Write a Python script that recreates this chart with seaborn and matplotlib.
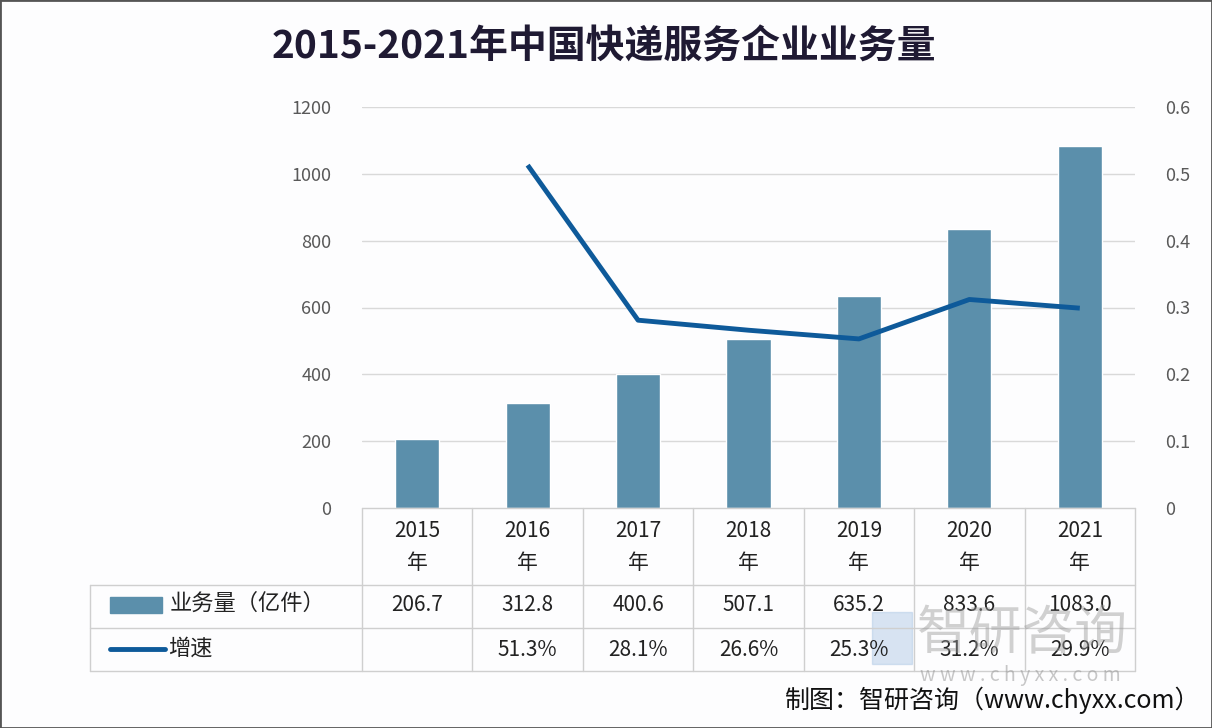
import numpy as np
import matplotlib
matplotlib.use("Agg")
import matplotlib.pyplot as plt
import seaborn as sns
from matplotlib.patches import Rectangle
from matplotlib.lines import Line2D

years = ["2015", "2016", "2017", "2018", "2019", "2020", "2021"]
volume = [206.7, 312.8, 400.6, 507.1, 635.2, 833.6, 1083.0]
growth = [None, 0.513, 0.281, 0.266, 0.253, 0.312, 0.299]
volume_labels = ["206.7", "312.8", "400.6", "507.1", "635.2", "833.6", "1083.0"]
growth_labels = ["", "51.3%", "28.1%", "26.6%", "25.3%", "31.2%", "29.9%"]
left_ticks = [0, 200, 400, 600, 800, 1000, 1200]
right_ticks = [0, 0.1, 0.2, 0.3, 0.4, 0.5, 0.6]
right_labels = ["0", "0.1", "0.2", "0.3", "0.4", "0.5", "0.6"]

sns.set_theme(style="white")
FAM = ["Noto Sans CJK SC", "DejaVu Sans"]
plt.rcParams["font.family"] = FAM

BAR = "#5B8FAB"
LINE = "#0E5A9A"
GRID = "#D9D9D9"
TXT = "#222222"
TICK = "#595959"

W, H = 1212, 728
fig = plt.figure(figsize=(W / 100, H / 100), dpi=100)
fig.patch.set_facecolor("#FDFDFE")

L, R, T, B = 362, 1135, 107, 508
ax = fig.add_axes([L / W, 1 - B / H, (R - L) / W, (B - T) / H])
ax.set_facecolor("none")

df_x = list(range(len(years)))
sns.barplot(x=df_x, y=volume, ax=ax, color=BAR, width=0.4, saturation=1, native_scale=False)
ax.set_xlim(-0.5, len(years) - 0.5)
ax.set_ylim(0, 1200)
ax.set_yticks(left_ticks)
ax.set_yticklabels([str(t) for t in left_ticks], color=TICK, fontsize=13)
ax.tick_params(axis="y", length=0, pad=22)
ax.set_xticks([])
ax.set_xlabel("")
ax.set_ylabel("")
for t in left_ticks[1:]:
    ax.axhline(t, color=GRID, lw=1, zorder=0)
for s in ax.spines.values():
    s.set_visible(False)

ax2 = ax.twinx()
gx = [i for i, g in enumerate(growth) if g is not None]
gy = [g for g in growth if g is not None]
sns.lineplot(x=gx, y=gy, ax=ax2, color=LINE, lw=3.5, solid_capstyle="butt")
ax2.set_ylim(0, 0.6)
ax2.set_yticks(right_ticks)
ax2.set_yticklabels(right_labels, color=TICK, fontsize=13)
ax2.tick_params(axis="y", length=0, pad=22)
for s in ax2.spines.values():
    s.set_visible(False)
ax.set_xlim(-0.5, len(years) - 0.5)
ax2.set_xlim(-0.5, len(years) - 0.5)

# --- data table (in figure pixel coords) ---
def fx(px):
    return px / W

def fy(py):
    return 1 - py / H

TL = "#CFCFCF"
slot = (R - L) / len(years)
rows = [B, 585, 628, 671]
fig.add_artist(Line2D([fx(L), fx(R)], [fy(B), fy(B)], color=TL, lw=1))
for py in rows[1:]:
    fig.add_artist(Line2D([fx(90), fx(R)], [fy(py), fy(py)], color=TL, lw=1))
for i in range(len(years) + 1):
    px = L + i * slot
    fig.add_artist(Line2D([fx(px), fx(px)], [fy(B), fy(rows[-1])], color=TL, lw=1))
fig.add_artist(Line2D([fx(90), fx(90)], [fy(rows[1]), fy(rows[-1])], color=TL, lw=1))

for i, y in enumerate(years):
    cx = fx(L + (i + 0.5) * slot)
    fig.text(cx, fy(531), y, ha="center", va="center", fontsize=15, color=TXT)
    fig.text(cx, fy(563), "年", ha="center", va="center", fontsize=15, color=TXT)
    fig.text(cx, fy(605), volume_labels[i], ha="center", va="center", fontsize=15, color=TXT)
    fig.text(cx, fy(650), growth_labels[i], ha="center", va="center", fontsize=15, color=TXT)

fig.add_artist(Rectangle((fx(110), fy(613)), fx(52), 16 / H, color=BAR, transform=fig.transFigure))
fig.add_artist(Line2D([fx(110), fx(165)], [fy(649), fy(649)], color=LINE, lw=3.5,
                      solid_capstyle="round"))
fig.text(fx(170), fy(603), "业务量（亿件）", ha="left", va="center", fontsize=16, color=TXT)
fig.text(fx(168), fy(648), "增速", ha="left", va="center", fontsize=16, color=TXT)

# title
fig.text(fx(604), fy(47), "2015-2021年中国快递服务企业业务量", ha="center", va="center",
         fontsize=28, fontweight="bold", color="#1F1A33")

# watermark
fig.text(fx(1022), fy(634), "智研咨询", ha="center", va="center", fontsize=38,
         color="#9A9A9A", alpha=0.45)
fig.text(fx(1020), fy(676), "w w w . c h y x x . c o m", ha="center", va="center",
         fontsize=14, color="#9A9A9A", alpha=0.55)
fig.add_artist(Rectangle((fx(872), fy(664)), fx(40), 52 / H, color="#A9C4E4", alpha=0.45,
                         transform=fig.transFigure))

# footer
fig.text(fx(1200), fy(700), "制图：智研咨询（www.chyxx.com）", ha="right", va="center",
         fontsize=18, color="#111111")

# frame
fig.add_artist(Rectangle((0, 0), 1, 1, fill=False, ec="#555555", lw=2, transform=fig.transFigure))

fig.savefig("out.png", dpi=100)
